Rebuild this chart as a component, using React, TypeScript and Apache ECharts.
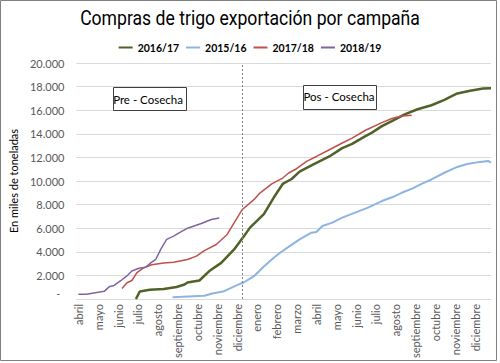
import React, { useEffect, useRef } from "react";
import * as echarts from "echarts";

// x values are in month units: 0 = abril (año 1) ... 20 = diciembre (año 2)
const monthLabels = [
  "abril", "mayo", "junio", "julio", "agosto", "septiembre", "octubre", "noviembre", "diciembre",
  "enero", "febrero", "marzo", "abril", "mayo", "junio", "julio", "agosto", "septiembre",
  "octubre", "noviembre", "diciembre",
];
const monthTicks = monthLabels.map((_, i) => i);

const seriesNames = ["2016/17", "2015/16", "2017/18", "2018/19"];
const seriesColors = ["#4f6228", "#8db4e2", "#c0504d", "#8064a2"];
const seriesWidths = [2.5, 2, 1.5, 1.5];

const harvestDivider = 8.27;

const data1617: [number, number][] = [
  [2.9, 0], [3.1, 640], [3.6, 780], [4.3, 850], [4.95, 1020], [5.35, 1230], [5.5, 1400],
  [6.1, 1570], [6.6, 2370], [7.2, 3060], [7.85, 4200], [8.35, 5330], [8.65, 6050],
  [9.35, 7200], [9.85, 8600], [10.3, 9750], [10.75, 10170], [11.15, 10790], [11.8, 11360],
  [12.65, 12080], [13.3, 12790], [13.8, 13140], [14.45, 13780], [14.8, 14100], [15.3, 14650],
  [15.8, 15080], [16.45, 15650], [17.1, 16080], [17.8, 16420], [18.45, 16870], [19.1, 17420],
  [19.75, 17640], [20.4, 17840], [20.8, 17870],
];

const data1516: [number, number][] = [
  [4.75, 150], [6.35, 270], [6.75, 470], [7.35, 660], [8.0, 1170], [8.35, 1420], [8.85, 1930],
  [9.35, 2750], [9.85, 3500], [10.15, 3900], [10.65, 4480], [11.15, 5050], [11.75, 5620],
  [12.0, 5680], [12.3, 6190], [12.8, 6470], [13.3, 6900], [13.95, 7320], [14.6, 7740],
  [15.3, 8300], [15.95, 8710], [16.3, 9000], [16.85, 9370], [17.3, 9760], [17.8, 10130],
  [18.45, 10700], [19.1, 11190], [19.6, 11440], [20.25, 11620], [20.65, 11700], [20.8, 11560],
];

const data1718: [number, number][] = [
  [2.2, 890], [2.45, 1380], [2.7, 1570], [2.95, 2230], [3.3, 2650], [3.7, 2900], [4.3, 3060],
  [4.8, 3120], [5.5, 3350], [5.95, 3630], [6.35, 4100], [6.95, 4620], [7.5, 5470], [7.85, 6460],
  [8.25, 7560], [8.85, 8420], [9.15, 8980], [9.75, 9750], [10.3, 10250], [10.6, 10680],
  [11.0, 11040], [11.5, 11660], [12.0, 12080], [12.65, 12650], [13.3, 13220], [13.8, 13640],
  [14.45, 14280], [15.3, 14950], [15.8, 15300], [16.3, 15500], [16.8, 15580],
];

const data1819: [number, number][] = [
  [0, 400], [0.4, 400], [1.3, 650], [1.55, 1030], [1.8, 1150], [2.15, 1570], [2.4, 1890],
  [2.7, 2370], [3.05, 2600], [3.4, 2700], [3.65, 3060], [3.9, 3350], [4.15, 4200], [4.45, 5050],
  [4.8, 5330], [5.1, 5620], [5.5, 6000], [6.2, 6400], [6.7, 6740], [7.1, 6860],
];

const allData = [data1617, data1516, data1718, data1819];

const fmt = (v: number) => {
  if (v === 0) return "{z|-}";
  return String(v).replace(/\B(?=(\d{3})+(?!\d))/g, ".");
};

export default function App() {
  const ref = useRef<HTMLDivElement>(null);
  useEffect(() => {
    document.body.style.margin = "0";
    if (!ref.current) return;
    const chart = echarts.init(ref.current, undefined, { renderer: "svg" });
    const font = "Lato, 'Open Sans', sans-serif";
    chart.setOption({
      animation: false,
      backgroundColor: "#ffffff",
      textStyle: { fontFamily: font },
      legend: {
        top: 37,
        left: "center",
        icon: "rect",
        itemWidth: 14,
        itemHeight: 2,
        itemGap: 7,
        data: seriesNames,
        textStyle: { fontFamily: font, fontSize: 10.5, fontWeight: "bold", color: "#000" },
      },
      grid: { left: 70, right: 9, top: 63, bottom: 64 },
      xAxis: {
        type: "value",
        min: -0.1,
        max: 20.8,
        axisLine: { show: false },
        axisTick: { show: false },
        splitLine: { show: false },
        axisLabel: {
          customValues: monthTicks,
          rotate: 90,
          margin: 5,
          fontSize: 11,
          color: "#595959",
          fontFamily: font,
          formatter: (v: number) => monthLabels[Math.round(v)] ?? "",
        },
      },
      yAxis: {
        type: "value",
        min: 0,
        max: 20000,
        interval: 2000,
        name: "En miles de toneladas",
        nameLocation: "middle",
        nameGap: 46,
        nameTextStyle: { fontSize: 11, color: "#000", fontFamily: font },
        axisLine: { show: false },
        axisTick: { show: false },
        splitLine: { lineStyle: { color: "#d9d9d9", width: 1 } },
        axisLabel: {
          margin: 12,
          fontSize: 11,
          color: "#595959",
          fontFamily: font,
          formatter: fmt,
          rich: { z: { fontSize: 11, color: "#595959", padding: [0, 4, 12, 0] } },
        },
      },
      series: seriesNames.map((name, i) => ({
        name,
        type: "line",
        data: allData[i],
        showSymbol: false,
        symbol: "none",
        color: seriesColors[i],
        lineStyle: { color: seriesColors[i], width: seriesWidths[i] },
        z: 2 + i,
        ...(i === 0
          ? {
              markLine: {
                silent: true,
                symbol: "none",
                label: { show: false },
                lineStyle: { color: "#7f7f7f", type: [2, 2], width: 1 },
                data: [{ xAxis: harvestDivider }],
              },
            }
          : {}),
      })),
      graphic: [
        {
          type: "rect",
          shape: { x: 0.5, y: 0.5, width: 496, height: 360 },
          style: { fill: "none", stroke: "#808080", lineWidth: 1 },
          silent: true,
        },
        {
          type: "text",
          x: 250,
          y: 19,
          scaleX: 0.88,
          style: {
            text: "Compras de trigo exportación por campaña",
            fontFamily: "Roboto, sans-serif",
            fontSize: 20,
            fill: "#000",
            textAlign: "center",
            textVerticalAlign: "middle",
          },
        },
        {
          type: "rect",
          z: 10,
          shape: { x: 113.5, y: 87.5, width: 73, height: 23 },
          style: { fill: "#ffffff", stroke: "#404040", lineWidth: 1 },
        },
        {
          type: "text",
          z: 11,
          x: 148,
          y: 99,
          style: {
            text: "Pre - Cosecha",
            fontFamily: font,
            fontSize: 11.5,
            fill: "#000",
            textAlign: "center",
            textVerticalAlign: "middle",
          },
        },
        {
          type: "rect",
          z: 10,
          shape: { x: 303.5, y: 85.5, width: 73, height: 24 },
          style: { fill: "#ffffff", stroke: "#404040", lineWidth: 1 },
        },
        {
          type: "text",
          z: 11,
          x: 339,
          y: 96,
          style: {
            text: "Pos - Cosecha",
            fontFamily: font,
            fontSize: 11.5,
            fill: "#000",
            textAlign: "center",
            textVerticalAlign: "middle",
          },
        },
      ],
    });
    return () => chart.dispose();
  }, []);
  return <div ref={ref} style={{ width: 500, height: 363 }} />;
}
